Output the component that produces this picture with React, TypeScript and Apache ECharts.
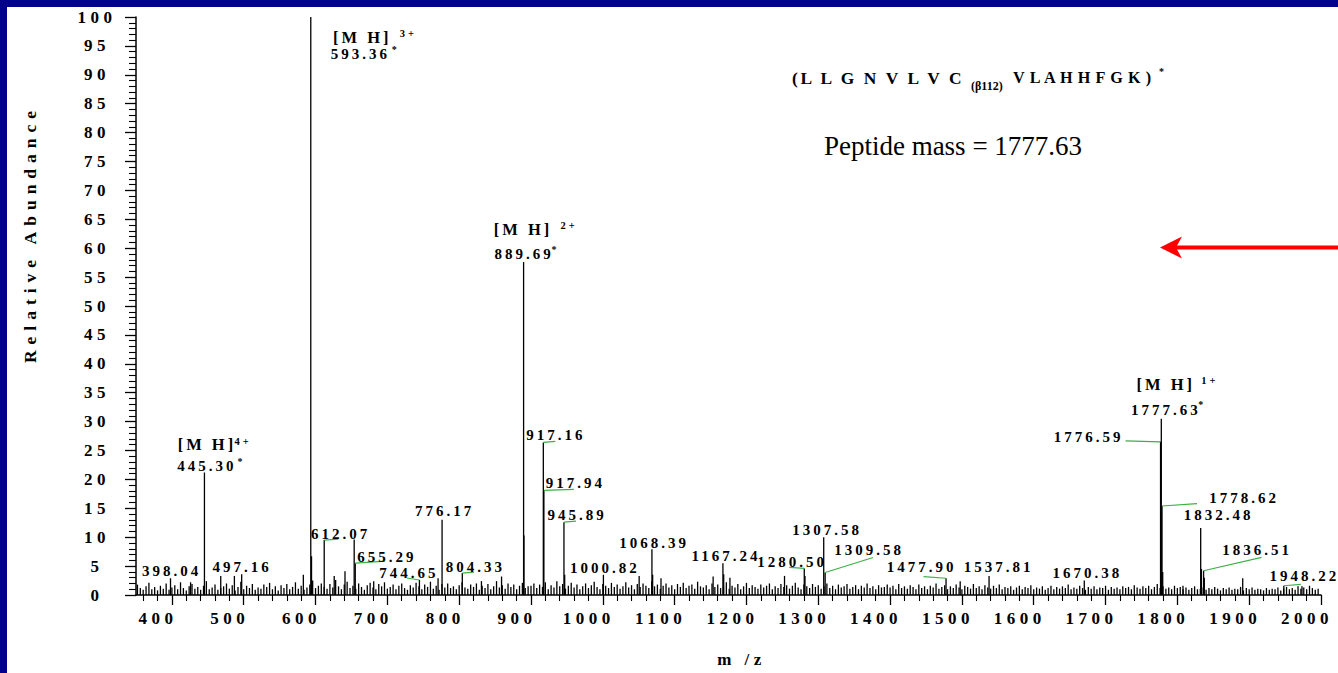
import React, { useEffect, useRef } from 'react';
import * as echarts from 'echarts';

// ---------------- data ----------------
const xTickValues = [400, 500, 600, 700, 800, 900, 1000, 1100, 1200, 1300, 1400, 1500, 1600, 1700, 1800, 1900, 2000];
const xMinorTickValues = [360, 380, 420, 440, 460, 480, 520, 540, 560, 580, 620, 640, 660, 680, 720, 740, 760, 780, 820, 840, 860, 880,
  920, 940, 960, 980, 1020, 1040, 1060, 1080, 1120, 1140, 1160, 1180, 1220, 1240, 1260, 1280, 1320, 1340, 1360, 1380,
  1420, 1440, 1460, 1480, 1520, 1540, 1560, 1580, 1620, 1640, 1660, 1680, 1720, 1740, 1760, 1780, 1820, 1840, 1860, 1880,
  1920, 1940, 1960, 1980];

// labelled peaks
const peakMz = [398.04, 445.30, 497.16, 593.36, 612.07, 655.29, 744.65, 776.17, 804.33, 889.69, 917.16, 917.94, 945.89,
  1000.82, 1068.39, 1167.24, 1280.50, 1307.58, 1309.58, 1477.90, 1537.81, 1670.38, 1776.59, 1777.63, 1778.62, 1832.48,
  1836.51, 1948.22];
const peakIntensity = [2.9, 21.2, 3.6, 100, 9.5, 5.5, 2.6, 13.0, 3.8, 57.6, 26.4, 18.1, 12.6,
  3.5, 7.9, 5.5, 4.6, 10.0, 3.9, 2.9, 3.3, 2.5, 26.5, 30.5, 15.4, 11.6,
  4.2, 1.6];
const peakLabels = ['398.04', '445.30', '497.16', '593.36', '612.07', '655.29', '744.65', '776.17', '804.33', '889.69', '917.16', '917.94', '945.89',
  '1000.82', '1068.39', '1167.24', '1280.50', '1307.58', '1309.58', '1477.90', '1537.81', '1670.38', '1776.59', '1777.63', '1778.62', '1832.48',
  '1836.51', '1948.22'];

// precursor ions [MH]n+
const precursorLabels = ['445.30', '593.36', '889.69', '1777.63'];
const precursorCharges = ['4+', '3+', '2+', '1+'];
const precursorHeader = '[M H]';

// unlabelled peaks
const minorMz = [426, 468, 487, 583, 594.4, 626, 641, 653.8, 681, 770.6, 831, 859, 890.2, 946.9, 1050.6, 1069.4, 1081,
  1153.6, 1168.3, 1177, 1253, 1281.5, 1497.6, 1779.6, 1807.8, 1833.5, 1837.5, 1891, 1973.5];
const minorIntensity = [2.2, 3.3, 3.3, 3.5, 6.7, 3.3, 4.1, 9.6, 2.4, 2.9, 2.4, 3.2, 10.3, 3.5, 3.3, 3.5, 2.9,
  3.2, 3.6, 3.0, 3.3, 3.3, 2.4, 4.0, 1.6, 4.5, 3.0, 2.9, 1.5];

// baseline noise, sampled every 4 m/z
const noiseStep = 4;
const noiseAStart = 352;
const noiseA = [
  1.8, 1.2, 0.9, 1.5, 2.1, 1.0, 1.4, 0.8, 1.6, 1.1,
  2.0, 0.9, 1.3, 1.7, 1.0, 2.2, 1.2, 0.8, 1.5, 1.9,
  1.1, 1.4, 0.9, 1.6, 2.4, 1.0, 1.3, 1.8, 0.9, 1.2,
  1.5, 2.0, 1.1, 1.7, 0.8, 1.4, 2.3, 1.0, 1.6, 1.2,
  1.9, 0.9, 1.3, 1.1, 1.8, 1.4, 2.1, 1.0, 1.5, 0.8,
  1.7, 1.2, 1.9, 1.0, 1.4, 2.2, 1.1, 1.6, 0.9, 1.3,
  1.8, 2.5, 1.2, 1.6, 2.0, 1.4, 1.1, 1.9, 1.3, 2.6,
  1.5, 1.0, 1.8, 2.3, 1.2, 1.6, 1.1, 2.0, 1.4, 0.9,
  1.7, 2.1, 1.3, 1.0, 1.9, 1.5, 2.2, 1.1, 1.4, 1.8,
  1.0, 1.6, 2.0, 1.2, 0.9, 1.7, 1.3, 2.1, 1.5, 1.0,
  1.8, 1.4, 2.3, 1.1, 1.6, 0.9, 1.9, 1.3, 2.0, 1.2,
  1.5, 1.0, 1.7, 2.2, 1.3, 1.1, 1.8, 1.4, 2.0, 0.9,
  1.6, 1.2, 1.9, 1.0, 1.5, 2.4, 1.3, 1.7, 1.1, 2.0,
  1.4, 1.8, 1.0, 1.6, 2.1, 1.2, 1.5];
const noiseBStart = 900;
const noiseB = [
  1.6, 2.0, 1.2, 1.8, 1.4, 2.2, 1.0, 1.7, 1.3, 2.4,
  1.5, 1.9, 1.1, 1.6, 2.1, 1.3, 1.8, 1.0, 1.5, 2.0,
  1.2, 1.7, 2.3, 1.4, 1.0, 1.9, 1.6, 1.2, 2.1, 1.4,
  1.8, 1.1, 1.5, 2.2, 1.3, 1.7, 1.0, 1.9, 1.4, 2.0,
  1.6, 1.2, 2.4, 1.5, 1.8, 1.1, 1.6, 2.0, 1.3, 1.7,
  1.0, 1.9, 1.4, 2.1, 1.2, 1.6, 1.8, 1.1, 2.3, 1.5,
  1.3, 1.7, 1.0, 2.0, 1.4, 1.8, 1.2, 1.5, 2.2, 1.1,
  1.6, 1.3, 1.9, 1.0, 1.5, 2.1, 1.2, 1.7, 1.4, 1.1,
  1.8, 1.3, 1.6, 2.0, 1.0, 1.5, 1.2, 1.9, 1.4, 1.7,
  1.1, 1.6, 2.1, 1.3, 1.0, 1.8, 1.5, 1.2, 1.9, 1.4,
  1.7, 1.1, 1.5, 2.0, 1.2, 1.6, 1.0, 1.8, 1.3, 1.5,
  1.9, 1.1, 1.4, 1.7, 1.0, 1.6, 1.3, 2.0, 1.2, 1.5,
  1.0, 1.7, 1.3, 1.4, 1.8];
const noiseCStart = 1400;
const noiseC = [
  1.3, 1.6, 1.0, 1.9, 1.2, 1.5, 1.1, 1.7, 1.4, 1.0,
  1.8, 1.2, 1.5, 1.0, 1.6, 1.3, 2.0, 1.1, 1.4, 1.7,
  1.0, 1.5, 1.2, 1.8, 1.3, 1.0, 1.6, 1.4, 1.1, 1.9,
  1.2, 1.5, 1.0, 1.7, 1.3, 1.1, 1.6, 1.2, 1.8, 1.0,
  1.4, 1.2, 1.5, 0.9, 1.3, 1.6, 1.0, 1.4, 1.2, 1.7,
  1.0, 1.3, 1.1, 1.5, 0.9, 1.2, 1.6, 1.0, 1.4, 1.1,
  1.5, 1.2, 1.8, 1.0, 1.3, 1.1, 1.6, 1.2, 0.9, 1.4,
  1.1, 1.5, 1.0, 1.3, 1.2, 1.6, 0.9, 1.4, 1.1, 1.3,
  1.0, 1.5, 1.2, 1.4, 1.0, 1.7, 1.3, 1.1, 1.5, 1.2,
  1.6, 1.0, 1.4, 1.9, 1.2, 1.5, 1.1, 1.3, 1.0, 1.6,
  1.2, 1.4, 1.0, 1.3, 0.9, 1.2, 1.5, 1.0, 1.1, 1.3,
  0.9, 1.2, 1.0, 1.4, 1.1, 0.8, 1.2, 1.0, 1.3, 0.9,
  1.1, 1.0, 1.4, 0.8, 1.2, 1.0, 1.3, 0.9, 1.1, 1.0,
  0.8, 1.2, 0.9, 1.1, 1.0, 1.3, 0.8, 1.1, 1.4, 1.0,
  1.2, 0.9, 1.5, 1.1, 1.3, 1.0, 1.6, 1.2, 0.9, 1.1];

const sequencePart1 = '(L L G N V L V C';
const sequenceSub = '(\u03B2112)';
const sequencePart2 = 'V L A H H F G K )';
const peptideMassText = 'Peptide mass = 1777.63';
const yAxisTitle = 'Relative Abundance';
const xAxisTitle = 'm /z';

// ---------------- layout / style ----------------
const FONT = 'Liberation Serif';
const GREEN = '#3cb043';
const NAVY = '#03038a';
const LS_SHIFT = 1.5;

// label centre offsets from peak top (px) and optional green leader [x1,y1,x2,y2] relative to peak top
const LABEL_LAYOUT: Record<string, { dx: number; dy: number; leader?: number[] }> = {
  '398.04': { dx: -0.5, dy: -7.5 },
  '445.30': { dx: 1, dy: -6.5 },
  '497.16': { dx: -1, dy: -7.5 },
  '593.36': { dx: 48, dy: 37 },
  '612.07': { dx: 15, dy: -6, leader: [0, 0, 14, -1] },
  '655.29': { dx: 30, dy: -6.5, leader: [0, 0, 30, -2] },
  '744.65': { dx: -12, dy: -7, leader: [-12.7, -2, 0, 0] },
  '776.17': { dx: 1, dy: -8.7 },
  '804.33': { dx: 11.5, dy: -6.5, leader: [0, 0, 11.7, -1] },
  '889.69': { dx: -1, dy: -8 },
  '917.16': { dx: 11, dy: -7.3, leader: [0, 0, 12, -1] },
  '917.94': { dx: 30, dy: -7, leader: [0, 0, 30, -1] },
  '945.89': { dx: 11.6, dy: -7, leader: [0, 0, 12, -1] },
  '1000.82': { dx: 0, dy: -7 },
  '1068.39': { dx: 0.7, dy: -6.3 },
  '1167.24': { dx: 1.5, dy: -6.8 },
  '1280.50': { dx: -13.6, dy: -6, leader: [-15, -1, 0, 0] },
  '1307.58': { dx: 2, dy: -7.2 },
  '1309.58': { dx: 42.5, dy: -22.5, leader: [0, 0, 48, -15] },
  '1477.90': { dx: -25.8, dy: -11.2, leader: [-22.5, -1.7, 0, 0] },
  '1537.81': { dx: 8, dy: -9 },
  '1670.38': { dx: 1.5, dy: -7.4 },
  '1776.59': { dx: -73.4, dy: -4.8, leader: [-35, -1, 0, 0] },
  '1777.63': { dx: 3, dy: -8.6 },
  '1778.62': { dx: 80.7, dy: -8.2, leader: [0, 0, 35, -2.3] },
  '1832.48': { dx: 16.5, dy: -13.3 },
  '1836.51': { dx: 52, dy: -21.2, leader: [0, 0, 58, -13.4] },
  '1948.22': { dx: 19, dy: -10, leader: [0, 0, 17, -1.4] },
};

const PRECURSOR_LAYOUT: Record<string, { star: number[]; head: number[]; charge: number[] }> = {
  '445.30': { star: [33, -11], head: [1, -28], charge: [30, -31] },
  '593.36': { star: [81, 32], head: [50, 20], charge: [89, 16] },
  '889.69': { star: [28, -13], head: [-2, -33], charge: [37, -37] },
  '1777.63': { star: [37, -14], head: [3, -34], charge: [40, -38] },
};

const CSS = `
.msc text[style*="bold"] { letter-spacing: 3px; }
.msc text[style*="17px"] { letter-spacing: 4.5px; }
.msc text[style*="17.5px"] { letter-spacing: 6px; }
.msc text[style*="17.4px"] { letter-spacing: 2.6px; }
.msc text[style*="16.2px"] { letter-spacing: 0.6px; }
`;

function noiseData(start: number, vals: number[]) {
  return vals.map((v, i) => [start + i * noiseStep, v]);
}

function stickItem(_params: any, api: any) {
  const x = api.value(0);
  const y = api.value(1);
  const p0 = api.coord([x, 0]);
  const p1 = api.coord([x, y]);
  return {
    type: 'line',
    shape: { x1: p0[0], y1: p0[1], x2: p1[0], y2: p1[1] },
    style: { stroke: '#000', lineWidth: 1.3 },
  };
}

function txt(x: number, y: number, text: string, size: number, align = 'center', weight: any = 'bold') {
  return {
    type: 'text',
    x,
    y,
    style: {
      text,
      fill: '#000',
      fontFamily: FONT,
      fontWeight: weight,
      fontSize: size,
      align,
      verticalAlign: 'middle',
    },
  };
}

function labelledItem(params: any, api: any) {
  const x = api.value(0);
  const y = api.value(1);
  const label = peakLabels[params.dataIndex];
  const lay = LABEL_LAYOUT[label];
  const p0 = api.coord([x, 0]);
  const t = api.coord([x, y]);
  const children: any[] = [
    {
      type: 'line',
      shape: { x1: p0[0], y1: p0[1], x2: t[0], y2: t[1] },
      style: { stroke: '#000', lineWidth: 1.3 },
    },
  ];
  if (lay.leader) {
    const l = lay.leader;
    children.push({
      type: 'line',
      shape: { x1: t[0] + l[0], y1: t[1] + l[1], x2: t[0] + l[2], y2: t[1] + l[3] },
      style: { stroke: GREEN, lineWidth: 1.2 },
    });
  }
  children.push(txt(t[0] + lay.dx + LS_SHIFT, t[1] + lay.dy, label, 15));
  const pi = precursorLabels.indexOf(label);
  if (pi >= 0) {
    const pl = PRECURSOR_LAYOUT[label];
    children.push(txt(t[0] + pl.star[0], t[1] + pl.star[1], '*', 10, 'left'));
    children.push(txt(t[0] + pl.head[0] + LS_SHIFT, t[1] + pl.head[1], precursorHeader, 16.5));
    children.push(txt(t[0] + pl.charge[0], t[1] + pl.charge[1], precursorCharges[pi], 10.5, 'left'));
  }
  return { type: 'group', children };
}

export default function App() {
  const ref = useRef<HTMLDivElement>(null);
  useEffect(() => {
    if (!ref.current) return;
    const chart = echarts.init(ref.current, undefined, { renderer: 'svg' });
    const axisFont = { fontFamily: FONT, fontWeight: 'bold', fontSize: 17, color: '#000' };
    chart.setOption({
      animation: false,
      backgroundColor: '#fff',
      grid: { left: 136, width: 1185, top: 17, height: 585, containLabel: false },
      xAxis: [
        {
          type: 'value',
          min: 350,
          max: 2000,
          name: xAxisTitle,
          nameLocation: 'middle',
          nameGap: 56,
          nameTextStyle: { ...axisFont, padding: [0, 0, 0, 26] },
          axisLine: { show: true, onZero: false, lineStyle: { color: '#000', width: 1.5 } },
          axisTick: { show: true, customValues: xTickValues, length: 10, lineStyle: { color: '#000', width: 1.3 } },
          axisLabel: {
            show: true, customValues: xTickValues, margin: 15, padding: [0, 28, 0, 0], ...axisFont,
            formatter: (v: number) => String(v),
          },
          splitLine: { show: false },
        },
        {
          type: 'value',
          min: 350,
          max: 2000,
          position: 'bottom',
          axisLine: { show: false },
          axisTick: { show: true, customValues: xMinorTickValues, length: 6, lineStyle: { color: '#000', width: 1.1 } },
          axisLabel: { show: false },
          splitLine: { show: false },
        },
      ],
      yAxis: {
        type: 'value',
        min: 0,
        max: 100,
        interval: 5,
        axisLine: { show: true, lineStyle: { color: '#000', width: 1.5 } },
        axisTick: { show: true, length: 11, lineStyle: { color: '#000', width: 1.3 } },
        minorTick: { show: true, splitNumber: 5, length: 7, lineStyle: { color: '#000', width: 1.1 } },
        axisLabel: { ...axisFont, align: 'center', margin: 39, padding: [4, 0, 0, 0], formatter: (v: number) => String(v) },
        splitLine: { show: false },
        minorSplitLine: { show: false },
      },
      graphic: [
        { type: 'rect', shape: { x: 0, y: 0, width: 1338, height: 7 }, style: { fill: NAVY } },
        { type: 'rect', shape: { x: 0, y: 0, width: 7, height: 673 }, style: { fill: NAVY } },
        {
          type: 'text', x: 30, y: 234, rotation: Math.PI / 2,
          style: { text: yAxisTitle, fill: '#000', fontFamily: FONT, fontWeight: 'bold', fontSize: 17.5, align: 'center', verticalAlign: 'middle' },
        },
        {
          type: 'text', x: 792, y: 78,
          style: { text: sequencePart1, fill: '#000', fontFamily: FONT, fontWeight: 700, fontSize: 17.4, align: 'left', verticalAlign: 'middle' },
        },
        {
          type: 'text', x: 971, y: 86,
          style: { text: sequenceSub, fill: '#000', fontFamily: FONT, fontWeight: 700, fontSize: 12, align: 'left', verticalAlign: 'middle' },
        },
        {
          type: 'text', x: 1013, y: 78,
          style: { text: sequencePart2, fill: '#000', fontFamily: FONT, fontWeight: 700, fontSize: 16.2, align: 'left', verticalAlign: 'middle' },
        },
        {
          type: 'text', x: 1159, y: 71,
          style: { text: '*', fill: '#000', fontFamily: FONT, fontWeight: 700, fontSize: 10, align: 'left', verticalAlign: 'middle' },
        },
        {
          type: 'text', x: 953, y: 146,
          style: { text: peptideMassText, fill: '#000', fontFamily: FONT, fontWeight: 'normal', fontSize: 27, align: 'center', verticalAlign: 'middle' },
        },
        { type: 'line', shape: { x1: 1174, y1: 247.5, x2: 1338, y2: 247.5 }, style: { stroke: '#ff0000', lineWidth: 4 } },
        { type: 'polygon', shape: { points: [[1160, 247.5], [1182, 236.5], [1176, 247.5], [1182, 258.5]] }, style: { fill: '#ff0000' } },
      ],
      series: [
        { type: 'custom', name: 'noiseA', renderItem: stickItem, data: noiseData(noiseAStart, noiseA), encode: { x: 0, y: 1 }, silent: true },
        { type: 'custom', name: 'noiseB', renderItem: stickItem, data: noiseData(noiseBStart, noiseB), encode: { x: 0, y: 1 }, silent: true },
        { type: 'custom', name: 'noiseC', renderItem: stickItem, data: noiseData(noiseCStart, noiseC), encode: { x: 0, y: 1 }, silent: true },
        {
          type: 'custom', name: 'minor', renderItem: stickItem,
          data: minorMz.map((m, i) => [m, minorIntensity[i]]), encode: { x: 0, y: 1 }, silent: true,
        },
        {
          type: 'custom', name: 'peaks', renderItem: labelledItem,
          data: peakMz.map((m, i) => [m, peakIntensity[i]]), encode: { x: 0, y: 1 }, silent: true,
        },
      ],
    });
    return () => chart.dispose();
  }, []);
  return (
    <>
      <style>{CSS}</style>
      <div
        ref={ref}
        className="msc"
        style={{ position: 'fixed', left: 0, top: 0, width: 1338, height: 673, background: '#fff' }}
      />
    </>
  );
}
